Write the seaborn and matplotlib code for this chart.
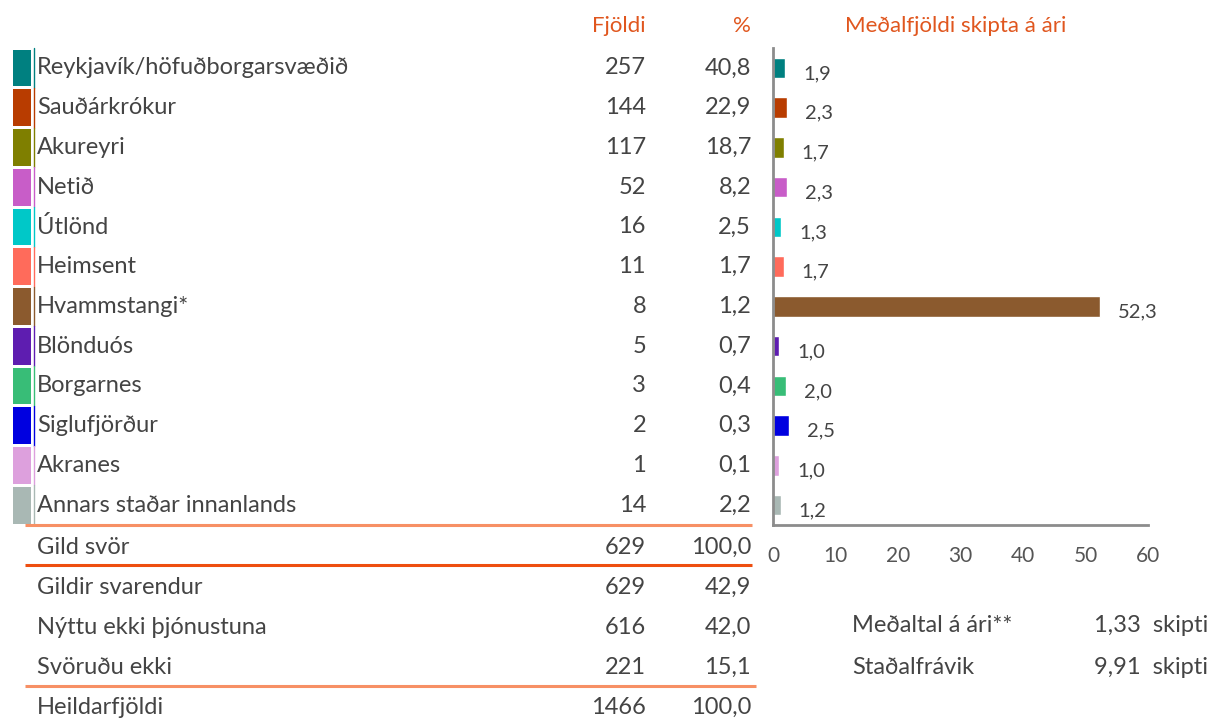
import matplotlib
matplotlib.use('Agg')
import matplotlib.pyplot as plt
from matplotlib.patches import Rectangle
import numpy as np
import pandas as pd
import seaborn as sns

# data
places = ['Reykjavík/höfuðborgarsvæðið', 'Sauðárkrókur', 'Akureyri', 'Netið', 'Útlönd',
          'Heimsent', 'Hvammstangi*', 'Blönduós', 'Borgarnes', 'Siglufjörður', 'Akranes',
          'Annars staðar innanlands']
counts = [257, 144, 117, 52, 16, 11, 8, 5, 3, 2, 1, 14]
percents = [40.8, 22.9, 18.7, 8.2, 2.5, 1.7, 1.2, 0.7, 0.4, 0.3, 0.1, 2.2]
mean_times = [1.9, 2.3, 1.7, 2.3, 1.3, 1.7, 52.3, 1.0, 2.0, 2.5, 1.0, 1.2]
colors = ['#008080', '#B83C00', '#7F7F00', '#C85DC8', '#00C8C8', '#FF6B5B',
          '#8B5A2E', '#5E1DB0', '#38BD77', '#0000E0', '#DDA0DD', '#A9B8B4']

summary_labels = ['Gild svör', 'Gildir svarendur', 'Nýttu ekki þjónustuna', 'Svöruðu ekki', 'Heildarfjöldi']
summary_counts = [629, 629, 616, 221, 1466]
summary_percents = [100.0, 42.9, 42.0, 15.1, 100.0]

stat_labels = ['Meðaltal á ári**', 'Staðalfrávik']
stat_values = [1.33, 9.91]

headers = ['Fjöldi', '%', 'Meðalfjöldi skipta á ári']

W, H = 1211, 721
TEXT = '#444444'
ORANGE = '#E0561E'
GREY = '#8C8C8C'


def comma(v, d=1):
    return f'{v:.{d}f}'.replace('.', ',')


sns.set_style('white')
plt.rcParams['font.family'] = ['Lato', 'DejaVu Sans']

fig = plt.figure(figsize=(W / 100, H / 100), dpi=100)

# bar chart on the right
ax_top, ax_bot, ax_left, ax_right = 48, 525, 773, 1148
ax = fig.add_axes([ax_left / W, 1 - ax_bot / H, (ax_right - ax_left) / W, (ax_bot - ax_top) / H])
df = pd.DataFrame({'place': places, 'mean': mean_times})
sns.barplot(data=df, x='mean', y='place', hue='place', palette=colors, legend=False,
            width=0.52, orient='h', saturation=1, ax=ax)
ax.set_xlim(0, 60)
ax.set_ylim(len(places) - 0.5, -0.5)
ax.set_xticks(range(0, 61, 10))
ax.set_yticks(np.arange(-0.5, len(places), 1))
ax.set_yticklabels([])
ax.set_xlabel('')
ax.set_ylabel('')
for s in ['top', 'right']:
    ax.spines[s].set_visible(False)
for s in ['left', 'bottom']:
    ax.spines[s].set_color(GREY)
    ax.spines[s].set_linewidth(2)
ax.tick_params(axis='both', direction='out', length=6, width=1.5, color=GREY,
               labelsize=15, labelcolor='#555555')
ax.tick_params(axis='x', pad=9)
for i, v in enumerate(mean_times):
    ax.annotate(comma(v), (v, i), xytext=(13, -4), textcoords='offset points',
                ha='left', va='center', fontsize=14.5, color=TEXT)

# table drawn on an overlay in pixel coordinates
tab = fig.add_axes([0, 0, 1, 1], zorder=-1)
tab.set_xlim(0, W)
tab.set_ylim(H, 0)
tab.axis('off')

row_h = (ax_bot - ax_top) / len(places)
fs = 17

tab.text(646, 26, headers[0], ha='right', va='center', fontsize=16, color=ORANGE)
tab.text(751, 26, headers[1], ha='right', va='center', fontsize=16, color=ORANGE)
tab.text(845, 26, headers[2], ha='left', va='center', fontsize=16, color=ORANGE)

for i, (name, n, p, c) in enumerate(zip(places, counts, percents, colors)):
    y0 = ax_top + i * row_h
    yc = y0 + row_h / 2
    tab.add_patch(Rectangle((13, y0 + 1.5), 17.5, row_h - 3, color=c, lw=0))
    tab.plot([33.5, 33.5], [y0, y0 + row_h], color=c, lw=1)
    tab.text(37, yc, name, ha='left', va='center', fontsize=fs, color=TEXT)
    tab.text(646, yc, str(n), ha='right', va='center', fontsize=fs, color=TEXT)
    tab.text(751, yc, comma(p), ha='right', va='center', fontsize=fs, color=TEXT)

for j, (name, n, p) in enumerate(zip(summary_labels, summary_counts, summary_percents)):
    yc = 547 + j * 40
    tab.text(37, yc, name, ha='left', va='center', fontsize=fs, color=TEXT)
    tab.text(646, yc, str(n), ha='right', va='center', fontsize=fs, color=TEXT)
    tab.text(751, yc, comma(p), ha='right', va='center', fontsize=fs, color=TEXT)

tab.plot([25, 752], [525, 525], color='#F79065', lw=2.2, solid_capstyle='butt')
tab.plot([25, 752], [565, 565], color='#EE4E10', lw=2.2, solid_capstyle='butt')
tab.plot([25, 756], [686, 686], color='#F79065', lw=2.2, solid_capstyle='butt')

for k, (name, v) in enumerate(zip(stat_labels, stat_values)):
    yc = 625 + k * 42
    tab.text(852, yc, name, ha='left', va='center', fontsize=fs, color=TEXT)
    tab.text(1208, yc, f'{comma(v, 2)}  skipti', ha='right', va='center', fontsize=fs, color=TEXT)

fig.savefig('out.png', dpi=100)
